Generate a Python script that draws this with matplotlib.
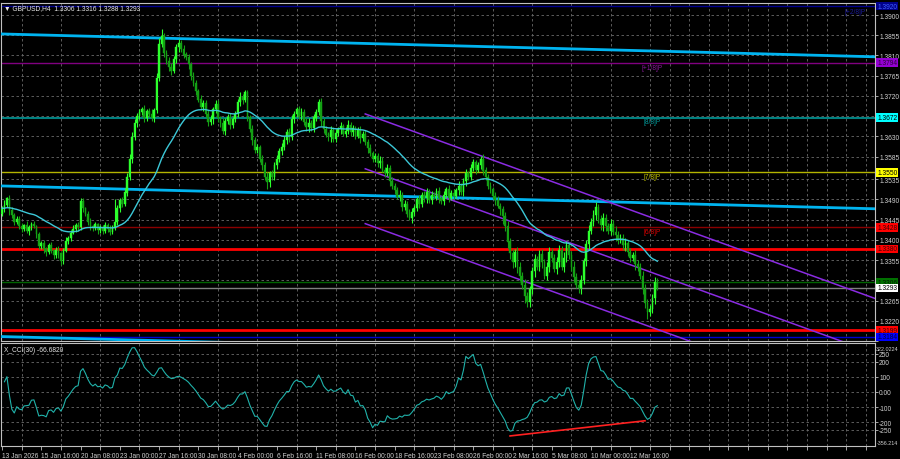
import numpy as np
import pandas as pd
import matplotlib
matplotlib.use("Agg")
import matplotlib.pyplot as plt
from matplotlib.transforms import blended_transform_factory as btf
from matplotlib import font_manager

# ---------------- data (H4 bars, prices as pips above 1.3000) ----------------
first_open = 1.3458
close_pips = [
    470, 478, 492, 466, 455, 440, 446, 430,
    425, 432, 420, 428, 436, 430, 412, 386,
    392, 380, 372, 388, 376, 366, 378, 370,
    352, 376, 398, 404, 416, 424, 432, 428,
    486, 470, 458, 440, 430, 426, 434, 422,
    428, 420, 432, 424, 418, 426, 440, 470,
    488, 480, 505, 540, 580, 628, 660, 676,
    684, 690, 672, 686, 680, 672, 688, 760,
    836, 852, 816, 798, 784, 776, 802, 828,
    838, 824, 812, 806, 790, 764, 748, 730,
    712, 696, 704, 680, 662, 668, 690, 702,
    670, 660, 642, 664, 672, 656, 668, 680,
    706, 718, 712, 728, 672, 646, 622, 600,
    606, 580, 566, 540, 528, 548, 540, 566,
    580, 598, 606, 622, 640, 628, 668, 680,
    690, 676, 684, 662, 650, 660, 648, 672,
    684, 706, 664, 646, 634, 628, 644, 624,
    638, 646, 652, 636, 642, 656, 640, 648,
    632, 644, 626, 636, 618, 604, 592, 580,
    586, 570, 576, 556, 548, 560, 530, 520,
    510, 496, 500, 472, 480, 458, 448, 462,
    470, 490, 480, 500, 492, 506, 488, 500,
    496, 508, 492, 486, 500, 512, 494, 504,
    498, 510, 520, 506, 530, 548, 540, 560,
    572, 556, 566, 580, 554, 540, 520, 512,
    498, 488, 476, 468, 452, 430, 396, 370,
    350, 372, 340, 320, 300, 274, 262, 290,
    330, 356, 340, 368, 350, 320, 340, 372,
    360, 336, 350, 378, 340, 360, 388, 366,
    340, 318, 300, 292, 310, 352, 390, 420,
    440, 456, 472, 446, 432, 448, 430, 420,
    436, 418, 410, 400, 404, 388, 392, 372,
    360, 366, 346, 340, 320, 290, 260, 240,
    246, 270, 306, 293,
]
wick_up_pips = [
    6, 10, 4, 8, 6, 4, 8, 6,
    8, 4, 10, 6, 4, 6, 4, 6,
    6, 8, 4, 6, 8, 4, 6, 8,
    4, 6, 8, 4, 6, 10, 6, 8,
    8, 6, 4, 6, 8, 4, 6, 4,
    6, 4, 8, 6, 10, 6, 50, 8,
    6, 8, 10, 8, 10, 12, 8, 6,
    8, 6, 10, 6, 8, 10, 6, 12,
    12, 17, 8, 6, 8, 10, 6, 8,
    8, 6, 10, 6, 8, 6, 10, 8,
    6, 10, 8, 6, 8, 10, 6, 8,
    8, 6, 10, 6, 8, 10, 6, 6,
    8, 10, 6, 6, 6, 6, 10, 6,
    8, 6, 8, 6, 10, 6, 8, 6,
    8, 6, 10, 8, 6, 8, 10, 6,
    6, 8, 10, 6, 8, 10, 6, 8,
    6, 7, 10, 6, 8, 6, 10, 8,
    8, 6, 10, 6, 8, 10, 6, 8,
    6, 8, 10, 6, 8, 6, 10, 6,
    8, 6, 10, 8, 6, 8, 6, 10,
    6, 8, 10, 6, 8, 6, 10, 8,
    8, 6, 10, 6, 8, 10, 6, 8,
    6, 8, 10, 6, 8, 6, 10, 6,
    8, 6, 10, 6, 8, 10, 6, 8,
    8, 6, 6, 6, 10, 8, 6, 8,
    6, 8, 10, 6, 8, 10, 12, 8,
    10, 8, 12, 10, 8, 12, 10, 8,
    10, 12, 8, 10, 12, 8, 10, 12,
    10, 8, 12, 10, 8, 12, 10, 8,
    10, 12, 8, 10, 12, 8, 10, 12,
    8, 10, 12, 8, 10, 12, 10, 8,
    10, 8, 12, 10, 8, 10, 12, 8,
    10, 8, 12, 10, 8, 10, 12, 8,
    8, 10, 12, 10,
]
wick_dn_pips = [
    6, 8, 4, 10, 6, 8, 4, 6,
    8, 6, 4, 10, 6, 4, 8, 6,
    6, 10, 8, 4, 6, 8, 6, 10,
    9, 6, 4, 8, 6, 4, 6, 8,
    6, 8, 4, 6, 8, 6, 4, 8,
    6, 8, 4, 6, 8, 6, 4, 6,
    8, 6, 4, 8, 6, 10, 6, 8,
    8, 6, 10, 8, 6, 8, 10, 6,
    6, 8, 10, 6, 8, 10, 6, 8,
    10, 6, 8, 6, 10, 8, 6, 8,
    6, 8, 10, 6, 8, 6, 10, 8,
    8, 10, 6, 8, 6, 10, 8, 6,
    6, 8, 10, 6, 8, 6, 10, 8,
    8, 6, 10, 8, 15, 10, 8, 6,
    8, 6, 10, 6, 8, 10, 6, 8,
    6, 8, 10, 6, 8, 10, 6, 8,
    8, 6, 10, 8, 6, 8, 10, 6,
    6, 8, 10, 6, 8, 6, 10, 8,
    8, 6, 10, 6, 8, 10, 6, 8,
    6, 8, 10, 6, 8, 6, 10, 8,
    8, 6, 10, 8, 6, 8, 4, 10,
    8, 6, 10, 6, 8, 10, 6, 8,
    6, 8, 10, 6, 8, 6, 10, 6,
    8, 6, 10, 6, 8, 10, 6, 8,
    8, 10, 6, 8, 10, 8, 6, 8,
    8, 10, 6, 12, 16, 10, 14, 12,
    12, 10, 14, 12, 10, 14, 11, 12,
    10, 12, 8, 10, 12, 8, 10, 12,
    10, 8, 12, 10, 8, 12, 10, 8,
    10, 12, 8, 10, 12, 8, 10, 12,
    8, 10, 12, 8, 10, 12, 10, 8,
    10, 8, 12, 10, 8, 10, 12, 8,
    10, 8, 12, 10, 8, 10, 12, 15,
    10, 8, 12, 5,
]

x_labels = ["13 Jan 2026", "15 Jan 16:00", "20 Jan 08:00", "23 Jan 00:00", "27 Jan 16:00",
            "30 Jan 08:00", "4 Feb 00:00", "6 Feb 16:00", "11 Feb 08:00", "16 Feb 00:00",
            "18 Feb 16:00", "23 Feb 08:00", "26 Feb 00:00", "2 Mar 16:00", "5 Mar 08:00",
            "10 Mar 00:00", "12 Mar 16:00"]
price_ticks = [1.3900, 1.3855, 1.3810, 1.3765, 1.3720, 1.3675, 1.3630, 1.3585, 1.3535,
               1.3490, 1.3445, 1.3400, 1.3355, 1.3310, 1.3265, 1.3220, 1.3175]
hidden_ticks = [1.3675, 1.3310, 1.3175]
cci_ticks = [250, 200, 100, 0, -100, -200, -250]
cci_tick_labels = ["250", "200", "100", "0.00", "-100", "-200", "-250"]

# trend lines: (bar, price) end points
blue_lines = [((-1, 1.3858), (356, 1.3807)),
              ((-1, 1.3520), (356, 1.3469)),
              ((-1, 1.3185), (356, 1.3134))]
purple_lines = [((148, 1.3680), (356, 1.3269)),
                ((148, 1.3558), (356, 1.3147)),
                ((148, 1.3436), (356, 1.3025))]
cci_trend = ((207, -290), (262, -190))

# horizontal levels: price, line colour, width, box colour, box text colour
levels = [
    (1.3920, "#000090", 1.0, "#00008b", "#4060ff"),
    (1.3794, "#800080", 1.0, "#9400d3", "#2a003a"),
    (1.3672, "#008080", 1.5, "#00ffff", "#000000"),
    (1.3550, "#b5b500", 1.0, "#ffff00", "#000000"),
    (1.3428, "#8b0000", 1.0, "#ff0000", "#400000"),
    (1.3380, "#ff0000", 2.0, "#ff0000", "#400000"),
    (1.3306, "#006400", 1.0, "#007000", "#001800"),
    (1.3293, "#808080", 1.0, "#ffffff", "#000000"),
    (1.3199, "#ff0000", 2.0, "#ff0000", "#400000"),
    (1.3184, "#0000cd", 1.0, "#0000ff", "#000040"),
]
murrey = [(1.3794, "[+1/8]P", "#8a1a9a"), (1.3672, "[8/8]P", "#009a9a"),
          (1.3550, "[7/8]P", "#c8c800"), (1.3428, "[6/8]P", "#e00000")]

# ---------------- derived series ----------------
close = 1.3 + np.array(close_pips) / 10000.0
opn = np.concatenate([[first_open], close[:-1]])
high = np.maximum(opn, close) + np.array(wick_up_pips) / 10000.0
low = np.minimum(opn, close) - np.array(wick_dn_pips) / 10000.0
n = len(close)
idx = np.arange(n)

ma = pd.Series(close).ewm(alpha=1 / 20, adjust=False).mean().values
tp = pd.Series((high + low + close) / 3.0)
sma = tp.rolling(30, min_periods=1).mean()
md = tp.rolling(30, min_periods=1).apply(lambda v: np.mean(np.abs(v - v.mean())), raw=True)
cci = ((tp - sma) / (0.015 * md)).values

# ---------------- figure ----------------
names = {f.name for f in font_manager.fontManager.ttflist}
fam = ["Liberation Sans Narrow"] if "Liberation Sans Narrow" in names else ["Liberation Sans"]
plt.rcParams["font.family"] = fam + ["DejaVu Sans"]

BG = "black"
GRID = "#6a6a6a"
TXT = "#d0d0d0"
fs = 4.8
fig = plt.figure(figsize=(9, 4.6), dpi=100, facecolor=BG)
ax = fig.add_axes([1 / 900, 118 / 460, 874 / 900, 338 / 460], facecolor=BG)
ax2 = fig.add_axes([1 / 900, 13 / 460, 874 / 900, 103 / 460], facecolor=BG, sharex=ax)

xl = (-0.41, 355.7)
ax.set_xlim(*xl)
ax.set_ylim(1.31756, 1.39267)
ax2.set_ylim(-356.214, 322.0224)

for a in (ax, ax2):
    for s in a.spines.values():
        s.set_color("#c0c0c0")
        s.set_linewidth(0.8)
    a.yaxis.tick_right()
    a.tick_params(axis="y", colors="#c0c0c0", labelcolor=TXT, labelsize=fs, length=2, pad=1, width=0.6)
    a.set_xticks(np.arange(0, 357, 8), minor=True)
    a.grid(which="minor", axis="x", color=GRID, linestyle=(0, (3, 3)), linewidth=0.6)

ax.tick_params(axis="x", which="both", bottom=False, labelbottom=False)
ax.set_yticks(price_ticks)
ax.set_yticklabels(["" if t in hidden_ticks else f"{t:.4f}" for t in price_ticks])
ax.grid(which="major", axis="y", color=GRID, linestyle=(0, (3, 3)), linewidth=0.6)

ax2.set_yticks(cci_ticks)
ax2.set_yticklabels(cci_tick_labels)
ax2.grid(which="major", axis="y", color=GRID, linestyle=(0, (3, 3)), linewidth=0.6)
ax2.set_xticks(np.arange(0, 16 * len(x_labels), 16))
ax2.set_xticklabels(x_labels, ha="left")
ax2.tick_params(axis="x", which="both", colors="#c0c0c0", labelcolor=TXT, labelsize=fs, length=3, pad=1, width=0.6)

# horizontal levels
tr = btf(ax.transAxes, ax.transData)
for p, lc, lw, fc, tc in levels:
    ax.axhline(p, color=lc, linewidth=lw, zorder=2)
    ax.text(1.0025, p, f"{p:.4f}", transform=tr, fontsize=fs, color=tc, va="center", ha="left",
            clip_on=False, zorder=10,
            bbox=dict(boxstyle="square,pad=0.12", fc=fc, ec="none"))
for p, lab, c in murrey:
    ax.text(265, p - 0.0002, lab, color=c, fontsize=fs, ha="center", va="top", zorder=3)
ax.text(352, 1.3916, "[+2/8]P", color="#1a1a9a", fontsize=fs, ha="right", va="top", zorder=3)

# trend lines
for (x0, y0), (x1, y1) in blue_lines:
    ax.plot([x0, x1], [y0, y1], color="#00b4f0", linewidth=2.0, zorder=4)
for (x0, y0), (x1, y1) in purple_lines:
    ax.plot([x0, x1], [y0, y1], color="#8a2be2", linewidth=1.1, zorder=4)

# candles
bull = close >= opn
col = np.where(bull, "#2cff2c", "#14a014")
ax.vlines(idx, low, high, colors=col, linewidth=0.8, zorder=5)
ax.bar(idx, np.abs(close - opn) + 0.00003, bottom=np.minimum(opn, close), width=0.7,
       color=col, edgecolor=col, linewidth=0.3, zorder=6)

# moving average
ax.plot(idx, ma, color="#3cc8d8", linewidth=1.0, zorder=7)

# CCI
ax2.plot(idx, cci, color="#20b2aa", linewidth=0.8, zorder=5)
(cx0, cy0), (cx1, cy1) = cci_trend
ax2.plot([cx0, cx1], [cy0, cy1], color="#ff2020", linewidth=1.2, zorder=6)

tr2 = btf(ax2.transAxes, ax2.transData)
ax2.text(1.0015, 305, "322.0224", transform=tr2, fontsize=3.9, color=TXT, va="top", ha="left", clip_on=False)
ax2.text(1.0015, -350, "-356.214", transform=tr2, fontsize=3.9, color=TXT, va="bottom", ha="left", clip_on=False)

# titles
fig.text(4 / 900, 1 - 9 / 460, "\u25bc GBPUSD,H4  1.3306 1.3316 1.3288 1.3293", color="#e8e8e8",
         fontsize=fs, va="center", ha="left")
fig.text(4 / 900, 1 - 350 / 460, "X_CCI(30) -66.6820", color="#e8e8e8",
         fontsize=fs, va="center", ha="left")

fig.savefig("out.png", dpi=100, facecolor=BG)
